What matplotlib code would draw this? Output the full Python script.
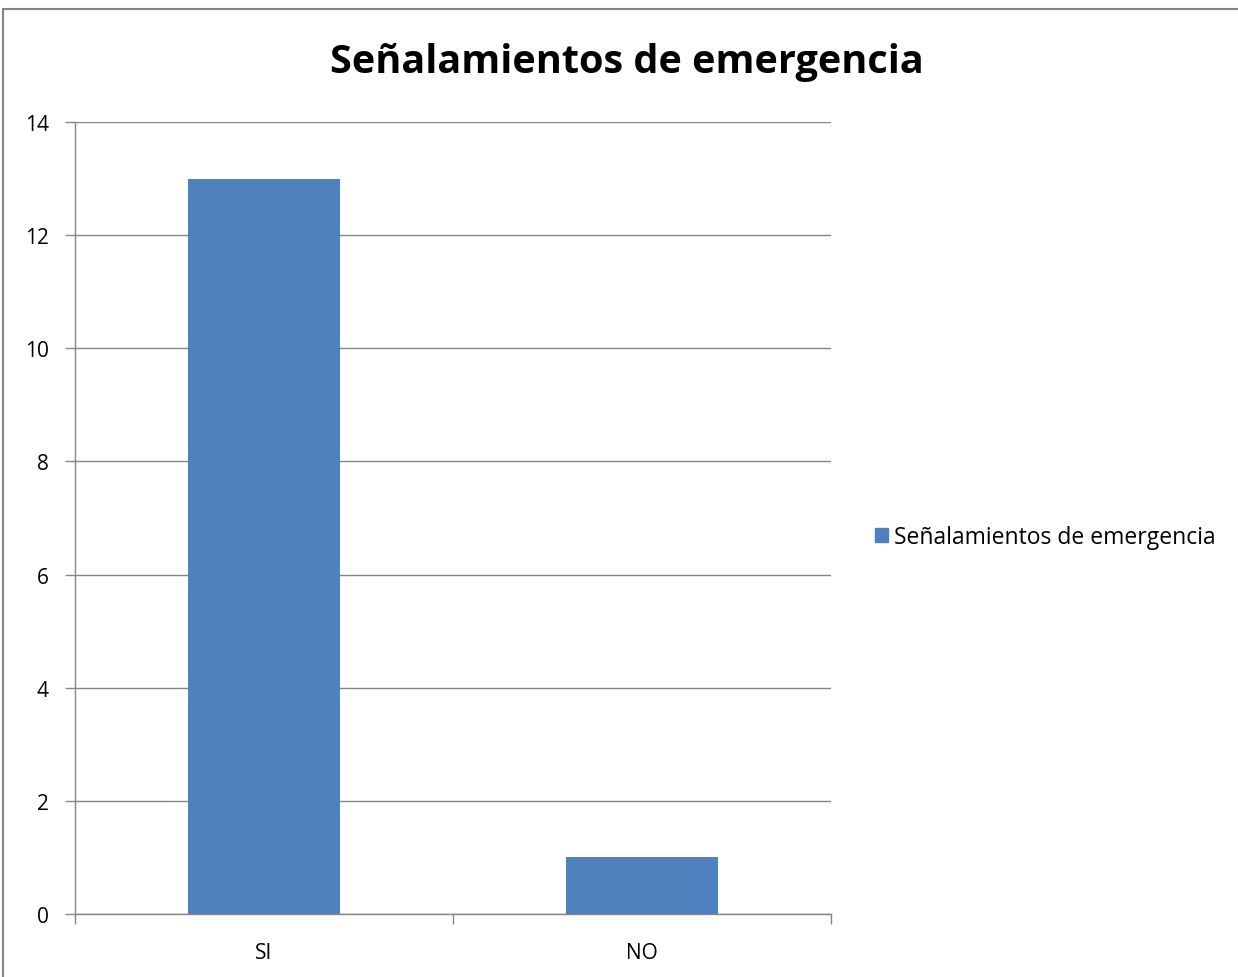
import matplotlib.pyplot as plt
from matplotlib.patches import Rectangle, Patch
from matplotlib.ticker import FixedLocator, NullFormatter

plt.rcParams['font.family'] = ['Open Sans', 'DejaVu Sans']

categories = ['SI', 'NO']
values = [13, 1]
series_name = 'Señalamientos de emergencia'

W, H = 1238, 978
fig = plt.figure(figsize=(W / 100, H / 100), dpi=100)

# outer chart frame
fig.patches.append(Rectangle((3 / W, -0.05), 1.2, 1.05 - 10 / H,
                             transform=fig.transFigure, fill=False,
                             edgecolor='#868686', linewidth=1.5))

ax = fig.add_axes([75 / W, 1 - 915 / H, (831 - 75) / W, (915 - 123) / H])
bar_color = '#4f81bd'
x = range(len(categories))
ax.bar(x, values, width=0.4, color=bar_color, zorder=3)

ax.set_xlim(-0.5, 1.5)
ax.set_ylim(0, 14)
ax.set_yticks(range(0, 15, 2))
ax.yaxis.grid(True, color='#868686', linewidth=1.0, zorder=0)

# category ticks between bars, labels under bars
ax.xaxis.set_major_locator(FixedLocator([-0.5, 0.5, 1.5]))
ax.xaxis.set_major_formatter(NullFormatter())
ax.xaxis.set_minor_locator(FixedLocator(list(x)))
ax.set_xticklabels(categories, minor=True)
ax.tick_params(axis='x', which='major', length=7, color='#868686', width=1)
ax.tick_params(axis='x', which='minor', length=0, pad=20, labelsize=15)
ax.tick_params(axis='y', length=7, color='#868686', width=1, labelsize=15, pad=12)

for side in ['top', 'right']:
    ax.spines[side].set_visible(False)
for side in ['left', 'bottom']:
    ax.spines[side].set_color('#868686')
    ax.spines[side].set_linewidth(1.0)

fig.text(627 / W, 1 - 63 / H, series_name, ha='center', va='center',
         fontsize=28.5, fontweight='bold')

fig.legend(handles=[Patch(color=bar_color, label=series_name)],
           loc='center left', bbox_to_anchor=(875 / W, 1 - 538 / H),
           frameon=False, fontsize=16.5, handlelength=0.55, handleheight=0.55,
           handletextpad=0.3, borderpad=0, borderaxespad=0)

fig.savefig('out.png', dpi=100)
